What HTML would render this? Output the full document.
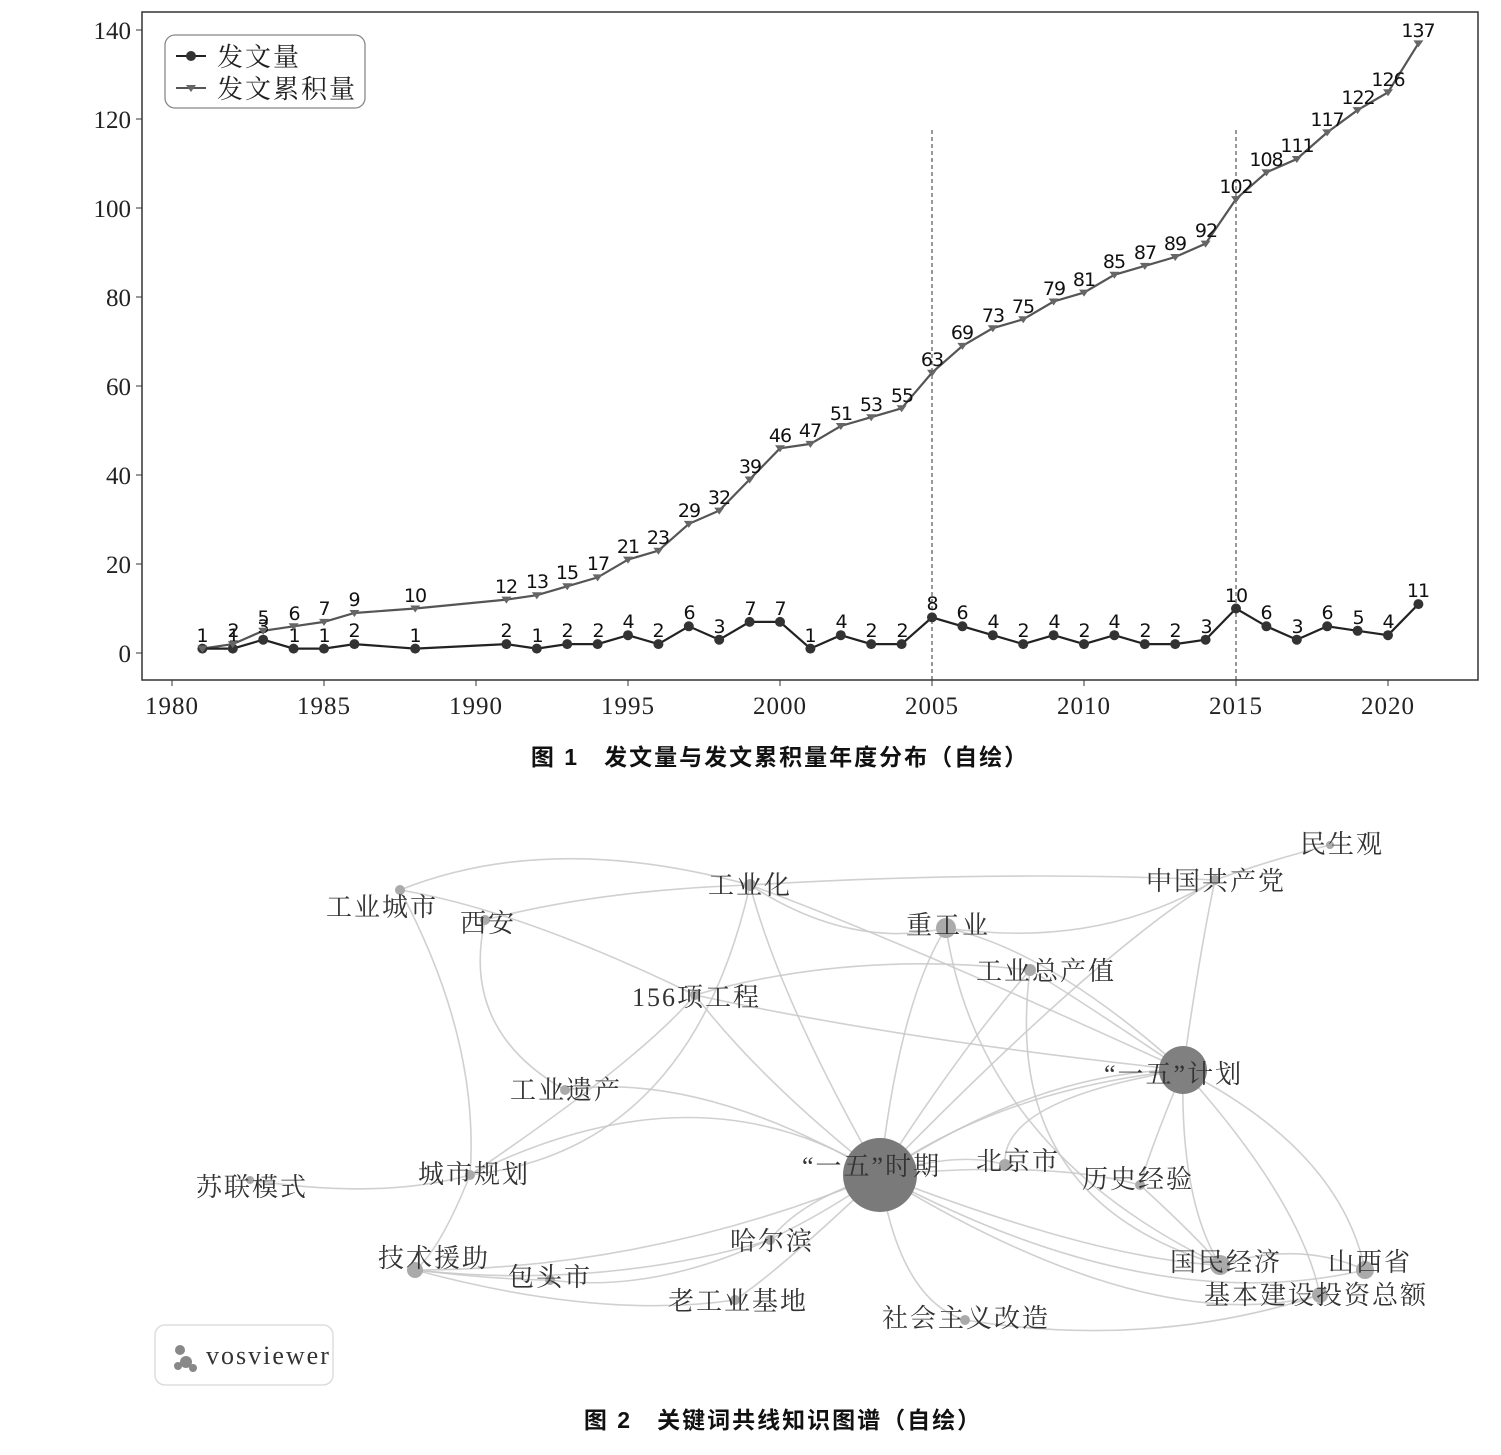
<!DOCTYPE html>
<html><head><meta charset="utf-8"><style>
body{margin:0;background:#fff;width:1501px;height:1455px;overflow:hidden}
svg{display:block}
.t{font-family:"Liberation Serif","Noto Serif CJK SC",serif;fill:#222}
.d{font-family:"DejaVu Sans","Liberation Sans",sans-serif;font-size:19px;fill:#111;text-anchor:middle;letter-spacing:-1px}
.n{font-family:"Liberation Serif","Noto Serif CJK SC",serif;font-size:26px;fill:#333;letter-spacing:2px}
.cap{font-family:"Liberation Sans","Noto Sans CJK SC",sans-serif;font-size:23px;font-weight:bold;fill:#111;letter-spacing:2px}
.e{fill:none;stroke:#c8c8c8;stroke-width:1.6;opacity:.85}
</style></head><body>
<svg width="1501" height="1455" viewBox="0 0 1501 1455">
<rect x="142" y="12" width="1336" height="668" fill="none" stroke="#333" stroke-width="1.5"/>
<g class="t" font-size="25" text-anchor="end">
<text x="131" y="39">140</text><text x="131" y="128">120</text><text x="131" y="217">100</text><text x="131" y="306">80</text><text x="131" y="395">60</text><text x="131" y="484">40</text><text x="131" y="573">20</text><text x="131" y="662">0</text>
</g>
<g stroke="#333"><line x1="136" y1="30" x2="142" y2="30"/><line x1="136" y1="119" x2="142" y2="119"/><line x1="136" y1="208" x2="142" y2="208"/><line x1="136" y1="297" x2="142" y2="297"/><line x1="136" y1="386" x2="142" y2="386"/><line x1="136" y1="475" x2="142" y2="475"/><line x1="136" y1="564" x2="142" y2="564"/><line x1="136" y1="653" x2="142" y2="653"/>
<line x1="172" y1="680" x2="172" y2="686"/><line x1="324" y1="680" x2="324" y2="686"/><line x1="476" y1="680" x2="476" y2="686"/><line x1="628" y1="680" x2="628" y2="686"/><line x1="780" y1="680" x2="780" y2="686"/><line x1="932" y1="680" x2="932" y2="686"/><line x1="1084" y1="680" x2="1084" y2="686"/><line x1="1236" y1="680" x2="1236" y2="686"/><line x1="1388" y1="680" x2="1388" y2="686"/></g>
<g class="t" font-size="25" text-anchor="middle" letter-spacing="1">
<text x="172" y="714">1980</text><text x="324" y="714">1985</text><text x="476" y="714">1990</text><text x="628" y="714">1995</text><text x="780" y="714">2000</text><text x="932" y="714">2005</text><text x="1084" y="714">2010</text><text x="1236" y="714">2015</text><text x="1388" y="714">2020</text>
</g>
<line x1="932" y1="130" x2="932" y2="680" stroke="#333" stroke-dasharray="4,3"/>
<line x1="1236" y1="130" x2="1236" y2="680" stroke="#333" stroke-dasharray="4,3"/>
<polyline fill="none" stroke="#555" stroke-width="2.2" points="202.4,648.6 232.8,644.1 263.2,630.8 293.6,626.3 324,621.9 354.4,613 415.2,608.5 506.4,599.6 536.8,595.2 567.2,586.3 597.6,577.4 628,559.6 658.4,550.7 688.8,523.9 719.2,510.6 749.6,479.5 780,448.3 810.4,443.9 840.8,426 871.2,417.2 901.6,408.3 932,372.7 962.4,345.9 992.8,328.2 1023.2,319.3 1053.6,301.5 1084,292.6 1114.4,274.8 1144.8,265.9 1175.2,257 1205.6,243.6 1236,199.1 1266.4,172.4 1296.8,159 1327.2,132.4 1357.6,110.1 1388,92.3 1418.4,43.4"/>
<polyline fill="none" stroke="#222" stroke-width="2.2" points="202.4,648.6 232.8,648.6 263.2,639.7 293.6,648.6 324,648.6 354.4,644.1 415.2,648.6 506.4,644.1 536.8,648.6 567.2,644.1 597.6,644.1 628,635.2 658.4,644.1 688.8,626.3 719.2,639.7 749.6,621.9 780,621.9 810.4,648.6 840.8,635.2 871.2,644.1 901.6,644.1 932,617.4 962.4,626.3 992.8,635.2 1023.2,644.1 1053.6,635.2 1084,644.1 1114.4,635.2 1144.8,644.1 1175.2,644.1 1205.6,639.7 1236,608.5 1266.4,626.3 1296.8,639.7 1327.2,626.3 1357.6,630.8 1388,635.2 1418.4,604.1"/>
<g fill="#333">
<circle cx="202.4" cy="648.6" r="5"/><circle cx="232.8" cy="648.6" r="5"/><circle cx="263.2" cy="639.7" r="5"/><circle cx="293.6" cy="648.6" r="5"/><circle cx="324" cy="648.6" r="5"/><circle cx="354.4" cy="644.1" r="5"/><circle cx="415.2" cy="648.6" r="5"/><circle cx="506.4" cy="644.1" r="5"/><circle cx="536.8" cy="648.6" r="5"/><circle cx="567.2" cy="644.1" r="5"/><circle cx="597.6" cy="644.1" r="5"/><circle cx="628" cy="635.2" r="5"/><circle cx="658.4" cy="644.1" r="5"/><circle cx="688.8" cy="626.3" r="5"/><circle cx="719.2" cy="639.7" r="5"/><circle cx="749.6" cy="621.9" r="5"/><circle cx="780" cy="621.9" r="5"/><circle cx="810.4" cy="648.6" r="5"/><circle cx="840.8" cy="635.2" r="5"/><circle cx="871.2" cy="644.1" r="5"/><circle cx="901.6" cy="644.1" r="5"/><circle cx="932" cy="617.4" r="5"/><circle cx="962.4" cy="626.3" r="5"/><circle cx="992.8" cy="635.2" r="5"/><circle cx="1023.2" cy="644.1" r="5"/><circle cx="1053.6" cy="635.2" r="5"/><circle cx="1084" cy="644.1" r="5"/><circle cx="1114.4" cy="635.2" r="5"/><circle cx="1144.8" cy="644.1" r="5"/><circle cx="1175.2" cy="644.1" r="5"/><circle cx="1205.6" cy="639.7" r="5"/><circle cx="1236" cy="608.5" r="5"/><circle cx="1266.4" cy="626.3" r="5"/><circle cx="1296.8" cy="639.7" r="5"/><circle cx="1327.2" cy="626.3" r="5"/><circle cx="1357.6" cy="630.8" r="5"/><circle cx="1388" cy="635.2" r="5"/><circle cx="1418.4" cy="604.1" r="5"/>
</g>
<g class="d">
<text x="202" y="642">1</text><text x="233" y="642">1</text><text x="263" y="633">3</text><text x="294" y="642">1</text><text x="324" y="642">1</text><text x="354" y="637">2</text><text x="415" y="642">1</text><text x="506" y="637">2</text><text x="537" y="642">1</text><text x="567" y="637">2</text><text x="598" y="637">2</text><text x="628" y="628">4</text><text x="658" y="637">2</text><text x="689" y="619">6</text><text x="719" y="633">3</text><text x="750" y="615">7</text><text x="780" y="615">7</text><text x="810" y="642">1</text><text x="841" y="628">4</text><text x="871" y="637">2</text><text x="902" y="637">2</text><text x="932" y="610">8</text><text x="962" y="619">6</text><text x="993" y="628">4</text><text x="1023" y="637">2</text><text x="1054" y="628">4</text><text x="1084" y="637">2</text><text x="1114" y="628">4</text><text x="1145" y="637">2</text><text x="1175" y="637">2</text><text x="1206" y="633">3</text><text x="1236" y="602">10</text><text x="1266" y="619">6</text><text x="1297" y="633">3</text><text x="1327" y="619">6</text><text x="1358" y="624">5</text><text x="1388" y="628">4</text><text x="1418" y="597">11</text>
<text x="233" y="637">2</text><text x="263" y="624">5</text><text x="294" y="620">6</text><text x="324" y="615">7</text><text x="354" y="606">9</text><text x="415" y="602">10</text><text x="506" y="593">12</text><text x="537" y="588">13</text><text x="567" y="579">15</text><text x="598" y="570">17</text><text x="628" y="553">21</text><text x="658" y="544">23</text><text x="689" y="517">29</text><text x="719" y="504">32</text><text x="750" y="473">39</text><text x="780" y="442">46</text><text x="810" y="437">47</text><text x="841" y="420">51</text><text x="871" y="411">53</text><text x="902" y="402">55</text><text x="932" y="366">63</text><text x="962" y="339">69</text><text x="993" y="322">73</text><text x="1023" y="313">75</text><text x="1054" y="295">79</text><text x="1084" y="286">81</text><text x="1114" y="268">85</text><text x="1145" y="259">87</text><text x="1175" y="250">89</text><text x="1206" y="237">92</text><text x="1236" y="193">102</text><text x="1266" y="166">108</text><text x="1297" y="152">111</text><text x="1327" y="126">117</text><text x="1358" y="104">122</text><text x="1388" y="86">126</text><text x="1418" y="37">137</text>
</g>
<g fill="#666">
<path d="M197.4,645.6h10l-5,7z M227.8,641.1h10l-5,7z M258.2,627.8h10l-5,7z M288.6,623.3h10l-5,7z M319,618.9h10l-5,7z M349.4,610h10l-5,7z M410.2,605.5h10l-5,7z M501.4,596.6h10l-5,7z M531.8,592.2h10l-5,7z M562.2,583.3h10l-5,7z M592.6,574.4h10l-5,7z M623,556.6h10l-5,7z M653.4,547.7h10l-5,7z M683.8,520.9h10l-5,7z M714.2,507.6h10l-5,7z M744.6,476.5h10l-5,7z M775,445.3h10l-5,7z M805.4,440.9h10l-5,7z M835.8,423h10l-5,7z M866.2,414.2h10l-5,7z M896.6,405.3h10l-5,7z M927,369.7h10l-5,7z M957.4,342.9h10l-5,7z M987.8,325.2h10l-5,7z M1018.2,316.3h10l-5,7z M1048.6,298.5h10l-5,7z M1079,289.6h10l-5,7z M1109.4,271.8h10l-5,7z M1139.8,262.9h10l-5,7z M1170.2,254h10l-5,7z M1200.6,240.6h10l-5,7z M1231,196.1h10l-5,7z M1261.4,169.4h10l-5,7z M1291.8,156h10l-5,7z M1322.2,129.4h10l-5,7z M1352.6,107.1h10l-5,7z M1383,89.3h10l-5,7z M1413.4,40.4h10l-5,7z"/>
</g>
<rect x="165" y="35" width="200" height="73" rx="10" fill="#fff" stroke="#888" stroke-width="1.3"/>
<line x1="176" y1="56" x2="206" y2="56" stroke="#222" stroke-width="2"/><circle cx="191" cy="56" r="5" fill="#333"/>
<line x1="176" y1="88" x2="206" y2="88" stroke="#555" stroke-width="2"/><path d="M186,85h10l-5,7z" fill="#666"/>
<text class="t" x="217" y="66" font-size="26" letter-spacing="2">发文量</text>
<text class="t" x="217" y="98" font-size="26" letter-spacing="2">发文累积量</text>
<text class="cap" x="780" y="765" text-anchor="middle">图 1　发文量与发文累积量年度分布（自绘）</text>

<g>
<path class="e" d="M880,1175 Q1000,1090 1183,1070"/>
<path class="e" d="M880,1175 Q1040,1070 1183,1070" stroke-width="3"/>
<path class="e" d="M880,1175 Q900,1000 946,928"/>
<path class="e" d="M880,1175 Q780,1000 750,885"/>
<path class="e" d="M880,1175 Q960,1050 1030,970"/>
<path class="e" d="M880,1175 Q760,1080 695,995"/>
<path class="e" d="M880,1175 Q700,1060 470,1175" stroke-width="2.5"/>
<path class="e" d="M880,1175 Q700,1070 565,1090"/>
<path class="e" d="M880,1175 Q960,1150 1005,1165"/>
<path class="e" d="M880,1175 Q1050,1160 1140,1185"/>
<path class="e" d="M880,1175 Q1100,1260 1220,1265"/>
<path class="e" d="M880,1175 Q1150,1320 1365,1270"/>
<path class="e" d="M880,1175 Q1150,1340 1320,1295"/>
<path class="e" d="M880,1175 Q900,1300 965,1320"/>
<path class="e" d="M880,1175 Q800,1200 770,1240"/>
<path class="e" d="M880,1175 Q780,1270 735,1300"/>
<path class="e" d="M880,1175 Q700,1300 550,1280"/>
<path class="e" d="M880,1175 Q650,1270 415,1270"/>
<path class="e" d="M880,1175 Q1100,950 1215,880"/>
<path class="e" d="M1183,1070 Q1200,950 1215,880"/>
<path class="e" d="M1183,1070 Q1050,950 946,928"/>
<path class="e" d="M1183,1070 Q1080,1000 1030,970"/>
<path class="e" d="M1183,1070 Q900,940 750,885"/>
<path class="e" d="M1183,1070 Q900,1040 695,995"/>
<path class="e" d="M1183,1070 Q1180,1200 1220,1265"/>
<path class="e" d="M1183,1070 Q1340,1150 1365,1270"/>
<path class="e" d="M1183,1070 Q1300,1200 1320,1295"/>
<path class="e" d="M1183,1070 Q1150,1150 1140,1185"/>
<path class="e" d="M1183,1070 Q1000,1100 1005,1165"/>
<path class="e" d="M946,928 Q1100,950 1215,880"/>
<path class="e" d="M946,928 Q850,950 750,885"/>
<path class="e" d="M946,928 Q980,1150 1220,1265"/>
<path class="e" d="M1030,970 Q1000,1200 1220,1265"/>
<path class="e" d="M1030,970 Q850,950 695,995"/>
<path class="e" d="M1215,880 Q1270,860 1330,845"/>
<path class="e" d="M1215,880 Q1000,870 750,885"/>
<path class="e" d="M750,885 Q550,830 400,890"/>
<path class="e" d="M750,885 Q600,890 485,920"/>
<path class="e" d="M750,885 Q690,1150 470,1175"/>
<path class="e" d="M400,890 Q480,1040 470,1175"/>
<path class="e" d="M400,890 Q520,910 695,995"/>
<path class="e" d="M485,920 Q460,1030 565,1090"/>
<path class="e" d="M470,1175 Q380,1200 250,1180"/>
<path class="e" d="M470,1175 Q440,1250 415,1270"/>
<path class="e" d="M470,1175 Q640,1060 695,995"/>
<path class="e" d="M415,1270 Q500,1280 550,1280"/>
<path class="e" d="M415,1270 Q600,1320 735,1300"/>
<path class="e" d="M415,1270 Q600,1290 770,1240"/>
<path class="e" d="M1220,1265 Q1300,1240 1365,1270"/>
<path class="e" d="M1140,1185 Q1200,1240 1220,1265"/>
<path class="e" d="M965,1320 Q1150,1350 1320,1295"/>
</g>
<circle cx="880" cy="1175" r="37" fill="#7a7a7a"/>
<circle cx="1183" cy="1070" r="24" fill="#808080"/>
<g fill="#aaa">
<circle cx="946" cy="928" r="10"/><circle cx="1220" cy="1265" r="10"/><circle cx="1365" cy="1270" r="9"/><circle cx="1320" cy="1295" r="8"/>
<circle cx="415" cy="1270" r="8"/><circle cx="1030" cy="970" r="6"/><circle cx="750" cy="885" r="6"/><circle cx="1005" cy="1165" r="6"/><circle cx="1140" cy="1185" r="5"/><circle cx="965" cy="1320" r="5"/><circle cx="770" cy="1240" r="5"/><circle cx="735" cy="1300" r="5"/><circle cx="550" cy="1280" r="5"/><circle cx="470" cy="1175" r="5"/><circle cx="565" cy="1090" r="5"/><circle cx="695" cy="995" r="5"/><circle cx="485" cy="920" r="5"/><circle cx="400" cy="890" r="5"/><circle cx="1215" cy="880" r="5"/><circle cx="1330" cy="845" r="4"/><circle cx="250" cy="1180" r="4"/>
</g>
<g class="n">
<text x="1300" y="853">民生观</text>
<text x="1146" y="890">中国共产党</text>
<text x="708" y="894">工业化</text>
<text x="326" y="916">工业城市</text>
<text x="460" y="932">西安</text>
<text x="906" y="934">重工业</text>
<text x="976" y="980">工业总产值</text>
<text x="632" y="1006">156项工程</text>
<text x="1104" y="1083">“一五”计划</text>
<text x="510" y="1099">工业遗产</text>
<text x="802" y="1175">“一五”时期</text>
<text x="976" y="1170">北京市</text>
<text x="1082" y="1188">历史经验</text>
<text x="196" y="1196">苏联模式</text>
<text x="418" y="1183">城市规划</text>
<text x="730" y="1250">哈尔滨</text>
<text x="378" y="1267">技术援助</text>
<text x="1170" y="1271">国民经济</text>
<text x="1328" y="1271">山西省</text>
<text x="508" y="1286">包头市</text>
<text x="1204" y="1304">基本建设投资总额</text>
<text x="668" y="1310">老工业基地</text>
<text x="882" y="1327">社会主义改造</text>
</g>
<rect x="155" y="1325" width="178" height="60" rx="10" fill="#fff" stroke="#ddd" stroke-width="1.5"/>
<g fill="#888"><circle cx="180" cy="1350" r="5"/><circle cx="186" cy="1362" r="6"/><circle cx="178" cy="1366" r="4"/><circle cx="193" cy="1368" r="4"/></g>
<text class="n" x="206" y="1364" font-size="24" letter-spacing="0">vosviewer</text>
<text class="cap" x="783" y="1428" text-anchor="middle">图 2　关键词共线知识图谱（自绘）</text>
</svg>
</body></html>
